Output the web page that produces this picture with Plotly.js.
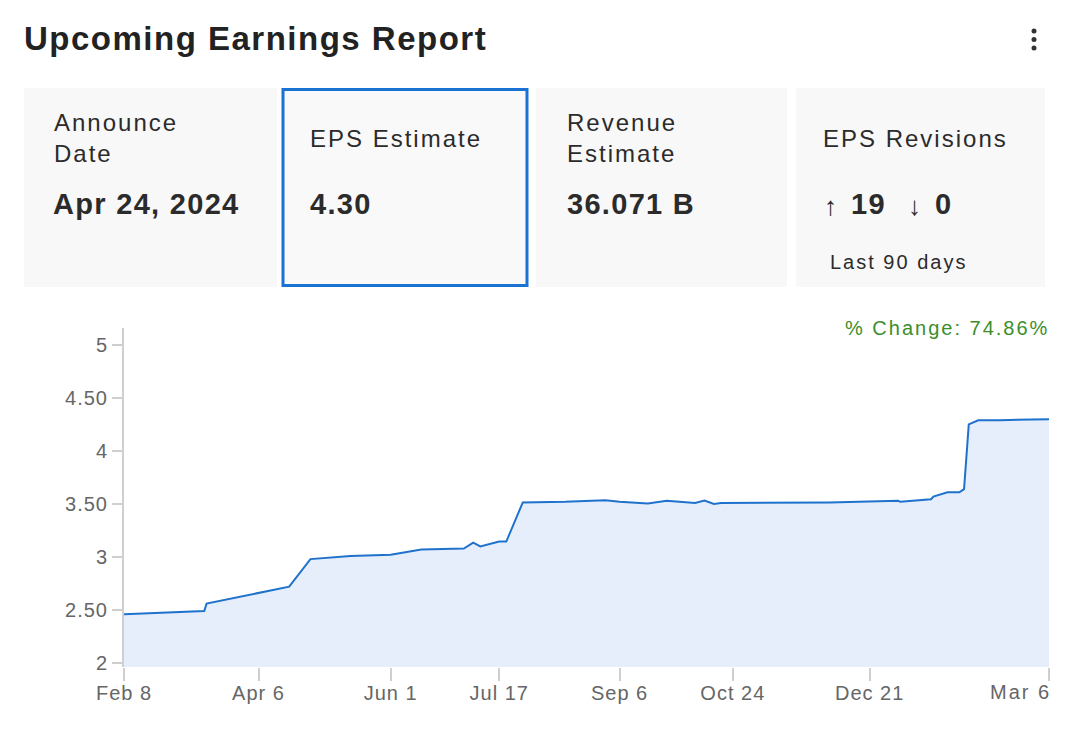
<!DOCTYPE html>
<html>
<head>
<meta charset="utf-8">
<script src="https://cdn.plot.ly/plotly-3.0.1.min.js"></script>
<style>
  html, body { margin: 0; padding: 0; background: #ffffff; }
  #chart { width: 1068px; height: 751px; }
  #chart text.annotation-text { letter-spacing: 2px; }
  #chart text.annotation-text[style*="font-weight: bold"],
  #chart text.annotation-text[style*="font-weight: 700"] { letter-spacing: 1.3px; }
  #chart text.gtitle { letter-spacing: 1.5px; }
  #chart .xtick text, #chart .ytick text { letter-spacing: 1px; }
</style>
</head>
<body>
<div id="chart"></div>
<script>
// ---- data ----
const dates = ['2023-02-08','2023-03-14','2023-03-15','2023-04-19','2023-04-28','2023-05-15','2023-06-01','2023-06-14','2023-07-02','2023-07-06','2023-07-09','2023-07-17','2023-07-20','2023-07-27','2023-08-14','2023-08-31','2023-09-06','2023-09-18','2023-09-26','2023-10-08','2023-10-12','2023-10-16','2023-10-19','2023-12-04','2024-01-02','2024-01-03','2024-01-16','2024-01-17','2024-01-23','2024-01-28','2024-01-30','2024-02-01','2024-02-05','2024-02-14','2024-03-06'];
const eps = [2.46,2.49,2.56,2.72,2.98,3.01,3.02,3.07,3.08,3.135,3.10,3.145,3.145,3.515,3.52,3.535,3.52,3.505,3.53,3.51,3.533,3.50,3.51,3.515,3.53,3.52,3.545,3.57,3.61,3.61,3.64,4.25,4.29,4.29,4.30];
const xTickVals = ['2023-02-08','2023-04-06','2023-06-01','2023-07-17','2023-09-06','2023-10-24','2023-12-21','2024-03-06'];
const xTickText = ['Feb 8','Apr 6','Jun 1','Jul 17','Sep 6','Oct 24','Dec 21','Mar 6'];
const yTickVals = [2, 2.5, 3, 3.5, 4, 4.5, 5];
const yTickText = ['2','2.50','3','3.50','4','4.50','5'];
const titleText = 'Upcoming Earnings Report';
const cardLabels = ['Announce<br>Date', 'EPS Estimate', 'Revenue<br>Estimate', 'EPS Revisions'];
const cardValues = ['Apr 24, 2024', '4.30', '36.071 B'];
const revisionsUp = '19';
const revisionsDown = '0';
const revisionsNote = 'Last 90 days';
const changeText = '% Change: 74.86%';

// ---- geometry helpers (pixel -> paper) ----
const PL = 124, PR = 1049, PT = 328, PB = 667;
const W = 1068, H = 751;
const px = x => (x - PL) / (PR - PL);
const py = y => (PB - y) / (PB - PT);

const FONT = '"Liberation Sans", Arial, Helvetica, sans-serif';
const dark = '#2b2b2b';

function rect(x0, y0, x1, y1, fill, line) {
  return { type: 'rect', xref: 'paper', yref: 'paper', layer: 'below',
    x0: px(x0), x1: px(x1), y0: py(y1), y1: py(y0),
    fillcolor: fill, line: line || { width: 0 } };
}
function text(t, x, y, size, opts) {
  opts = opts || {};
  return Object.assign({ text: t, xref: 'paper', yref: 'paper', x: px(x), y: py(y),
    xanchor: 'left', yanchor: 'middle', showarrow: false, align: 'left',
    font: { family: FONT, size: size, color: opts.color || dark, weight: opts.weight || 'normal' } }, opts.extra || {});
}

const shapes = [
  rect(24, 88, 277, 287, '#f8f8f8'),
  rect(536, 88, 787, 287, '#f8f8f8'),
  rect(796, 88, 1045, 287, '#f8f8f8'),
  rect(283, 89.5, 527, 285.5, '#f9f9f9', { color: '#1a73d3', width: 3 }),
];
// menu dots
[31, 39.5, 48].forEach(cy => {
  shapes.push({ type: 'circle', xref: 'paper', yref: 'paper',
    x0: px(1031.5), x1: px(1036.5), y0: py(cy + 2.5), y1: py(cy - 2.5),
    fillcolor: '#333', line: { width: 0 } });
});

const annotations = [
  text(cardLabels[0], 52, 138, 24),
  text(cardLabels[1], 308, 138, 24),
  text(cardLabels[2], 565, 138, 24),
  text(cardLabels[3], 821, 138, 24),
  text(cardValues[0], 51, 204, 29, { weight: 'bold' }),
  text(cardValues[1], 308, 204, 29, { weight: 'bold' }),
  text(cardValues[2], 565, 204, 29, { weight: 'bold' }),
  text('↑', 822, 206, 26),
  text(revisionsUp, 849, 204, 29, { weight: 'bold' }),
  text('↓', 906, 206, 26),
  text(revisionsDown, 933, 204, 29, { weight: 'bold' }),
  text(revisionsNote, 828, 262, 20),
  text(changeText, 843, 328, 20, { color: '#3b8e2c' }),
  text(xTickText[xTickText.length - 1], 988, 692, 20, { color: '#666' }),
];

const trace = {
  x: dates, y: eps, type: 'scatter', mode: 'lines',
  line: { color: '#1f72cc', width: 2 },
  fill: 'tozeroy', fillcolor: '#e6eefb',
  hoverinfo: 'skip'
};

const layout = {
  width: W, height: H,
  margin: { l: PL, r: W - PR, t: PT, b: H - PB },
  paper_bgcolor: '#ffffff', plot_bgcolor: '#ffffff',
  showlegend: false,
  title: { text: titleText, xref: 'container', yref: 'container',
    x: 24 / W, y: 1 - 38 / H, xanchor: 'left', yanchor: 'middle',
    font: { family: FONT, size: 33, color: '#222', weight: 'bold' } },
  xaxis: {
    type: 'date', range: [dates[0], dates[dates.length - 1]],
    tickmode: 'array', tickvals: xTickVals,
    ticktext: xTickText.map((t, i) => i === xTickText.length - 1 ? '' : t),
    ticks: 'outside', ticklen: 13, tickwidth: 2, tickcolor: '#cfcfcf',
    showline: false, showgrid: false, zeroline: false,
    tickfont: { family: FONT, size: 20, color: '#666' }, ticklabelstandoff: -5
  },
  yaxis: {
    range: [1.962, 5.16],
    tickmode: 'array', tickvals: yTickVals, ticktext: yTickText,
    ticks: 'outside', ticklen: 10, tickwidth: 2, tickcolor: '#cfcfcf',
    showline: true, linecolor: '#cfcfcf', linewidth: 2,
    showgrid: false, zeroline: false,
    tickfont: { family: FONT, size: 20, color: '#666' }
  },
  shapes: shapes,
  annotations: annotations
};

Plotly.newPlot('chart', [trace], layout, { displayModeBar: false, staticPlot: true });
</script>
</body>
</html>
